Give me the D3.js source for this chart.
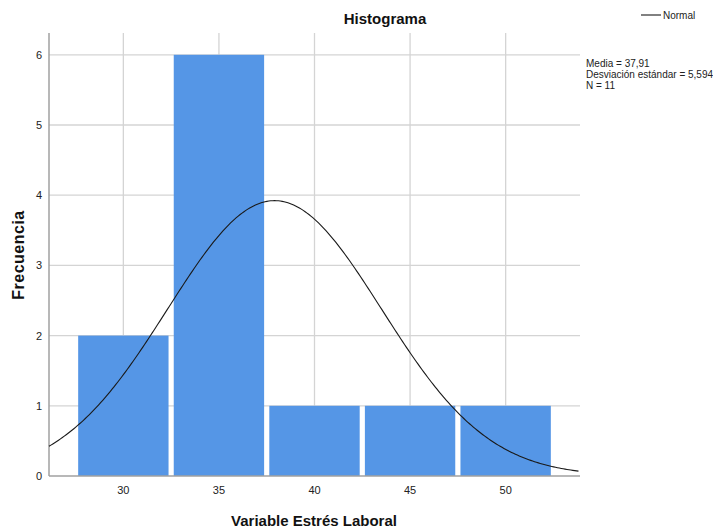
<!DOCTYPE html>
<html>
<head>
<meta charset="utf-8">
<script src="https://cdn.jsdelivr.net/npm/d3@7"></script>
<style>
  body { margin: 0; background: #fff; }
  text { font-family: "Liberation Sans", Arial, sans-serif; }
</style>
</head>
<body>
<svg id="chart" width="713" height="531"></svg>
<script>
// bins of width 5 (lower/upper edges) and their counts
const binStarts = [27.5, 32.5, 37.5, 42.5, 47.5];
const binEnds = [32.5, 37.5, 42.5, 47.5, 52.5];
const counts = [2, 6, 1, 1, 1];
const xTicks = [30, 35, 40, 45, 50];
const yTicks = [0, 1, 2, 3, 4, 5, 6];
const mean = 37.91;
const sd = 5.594;
const n = 11;
const statLines = ["Media = 37,91", "Desviación estándar = 5,594", "N = 11"];

const svg = d3.select("#chart");
const plot = { left: 49, right: 580, top: 33, bottom: 476 };

const x = d3.scaleLinear().domain([26.11, 53.89]).range([plot.left, plot.right]);
const y = d3.scaleLinear().domain([0, 6]).range([plot.bottom, 54.8]);

// gridlines
const grid = svg.append("g");
grid.selectAll(".hg")
  .data(yTicks.slice(1))
  .enter().append("line")
  .attr("x1", plot.left).attr("x2", plot.right)
  .attr("y1", (d) => y(d)).attr("y2", (d) => y(d))
  .style("stroke", "#d4d4d4").style("stroke-width", 1.3);
grid.selectAll(".vg")
  .data(xTicks)
  .enter().append("line")
  .attr("x1", (d) => x(d)).attr("x2", (d) => x(d))
  .attr("y1", plot.top).attr("y2", plot.bottom)
  .style("stroke", "#d4d4d4").style("stroke-width", 1.3);

// bars, with a small white gap between neighbours
const gap = 2.6;
svg.append("g").selectAll("rect")
  .data(counts)
  .enter().append("rect")
  .attr("x", (d, i) => x(binStarts[i]) + gap)
  .attr("width", (d, i) => x(binEnds[i]) - x(binStarts[i]) - 2 * gap)
  .attr("y", (d) => y(d))
  .attr("height", (d) => plot.bottom - y(d))
  .style("fill", "#5596e6");

// axes lines
svg.append("line")
  .attr("x1", plot.left).attr("x2", plot.left)
  .attr("y1", plot.top).attr("y2", plot.bottom)
  .style("stroke", "#a0a0a0").style("stroke-width", 1.5);
svg.append("line")
  .attr("x1", plot.left).attr("x2", plot.right)
  .attr("y1", plot.bottom).attr("y2", plot.bottom)
  .style("stroke", "#a0a0a0").style("stroke-width", 1.5);

// normal curve scaled to counts (N * bin width)
const binWidth = 5;
const normal = (v) => n * binWidth / (sd * Math.sqrt(2 * Math.PI)) *
  Math.exp(-0.5 * Math.pow((v - mean) / sd, 2));
const curvePts = d3.range(x.domain()[0], x.domain()[1] + 0.01, 0.1);
svg.append("path")
  .datum(curvePts)
  .attr("d", d3.line().x((d) => x(d)).y((d) => y(normal(d))))
  .style("fill", "none")
  .style("stroke", "#1a1a1a")
  .style("stroke-width", 1.1);

// tick labels
svg.append("g").selectAll("text")
  .data(yTicks)
  .enter().append("text")
  .attr("x", 42).attr("y", (d) => y(d) + 4)
  .attr("text-anchor", "end")
  .style("font-size", "11px").style("fill", "#222")
  .text((d) => d);
svg.append("g").selectAll("text")
  .data(xTicks)
  .enter().append("text")
  .attr("x", (d) => x(d)).attr("y", 494)
  .attr("text-anchor", "middle")
  .style("font-size", "11px").style("fill", "#222")
  .text((d) => d);

// titles
svg.append("text")
  .attr("x", 385).attr("y", 24)
  .attr("text-anchor", "middle")
  .style("font-size", "15px").style("font-weight", "bold").style("fill", "#111")
  .text("Histograma");
svg.append("text")
  .attr("x", 314).attr("y", 526)
  .attr("text-anchor", "middle")
  .style("font-size", "15px").style("font-weight", "bold").style("fill", "#111")
  .text("Variable Estrés Laboral");
svg.append("text")
  .attr("transform", "translate(24,255) rotate(-90)")
  .attr("text-anchor", "middle")
  .style("font-size", "16px").style("font-weight", "bold").style("fill", "#111")
  .style("letter-spacing", "0.5px")
  .text("Frecuencia");

// legend
svg.append("line")
  .attr("x1", 641).attr("x2", 661).attr("y1", 15).attr("y2", 15)
  .style("stroke", "#1a1a1a").style("stroke-width", 1.1);
svg.append("text")
  .attr("x", 663).attr("y", 19)
  .style("font-size", "10px").style("fill", "#222")
  .text("Normal");

svg.append("g").selectAll("text")
  .data(statLines)
  .enter().append("text")
  .attr("x", 586).attr("y", (d, i) => 67 + i * 11)
  .style("font-size", "10px").style("fill", "#222")
  .text((d) => d);
</script>
</body>
</html>
